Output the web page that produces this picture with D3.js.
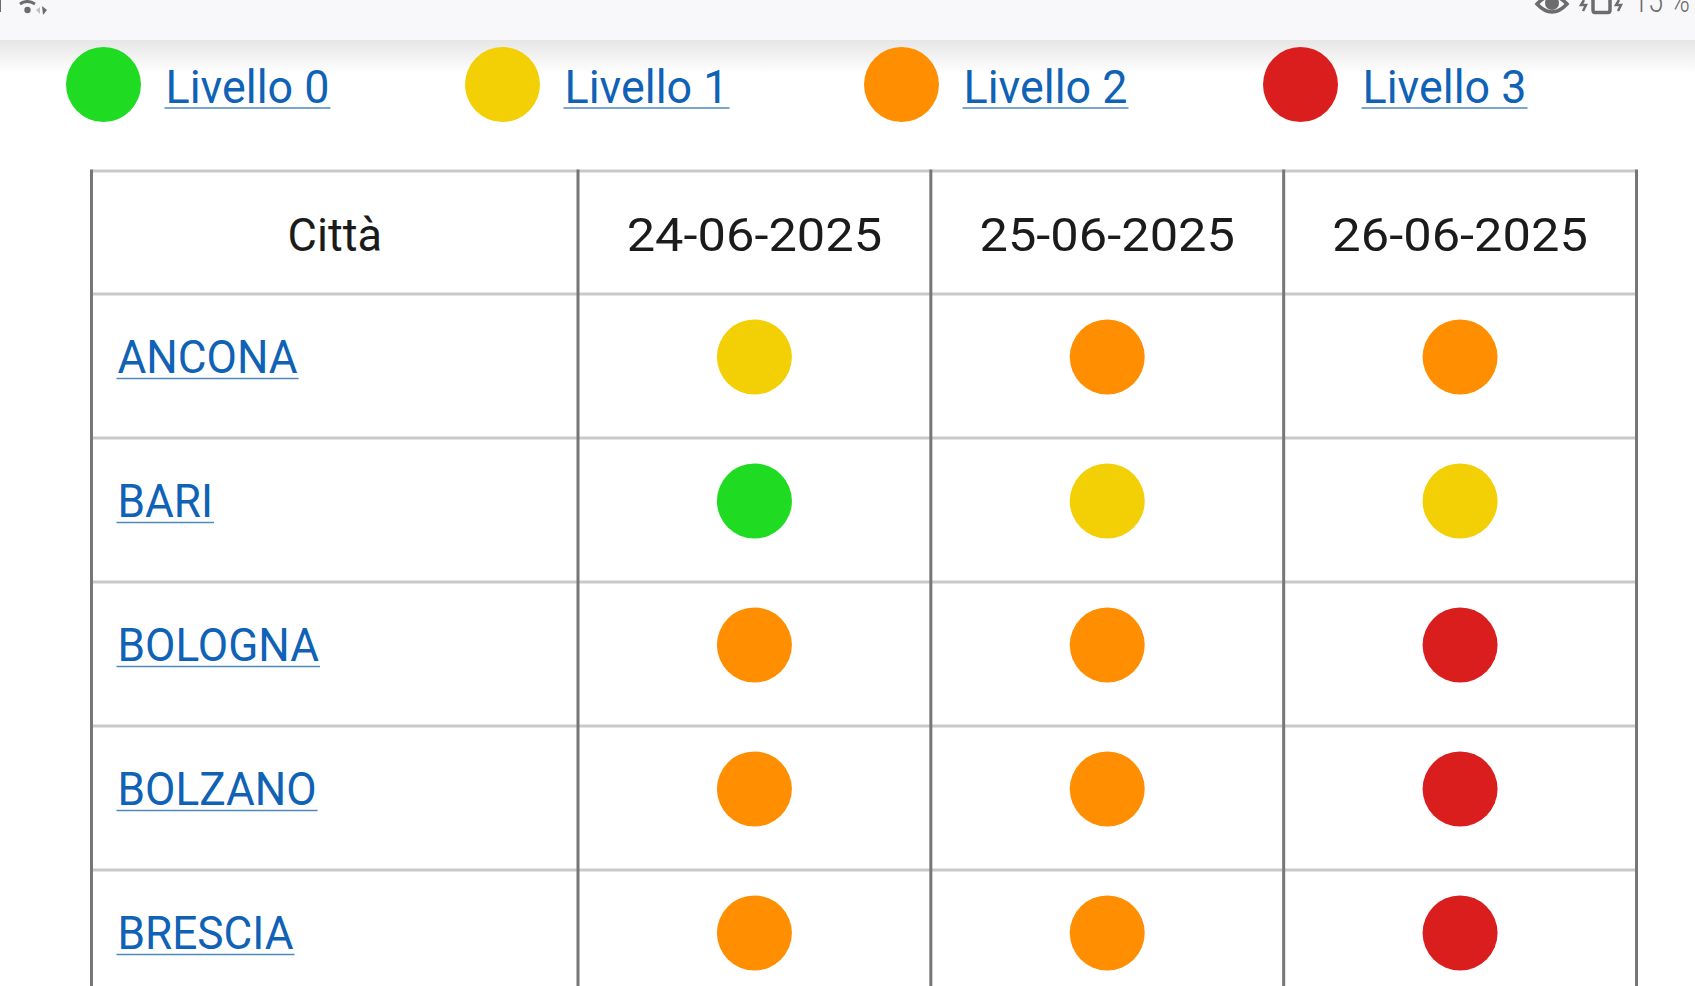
<!DOCTYPE html>
<html>
<head>
<meta charset="utf-8">
<script src="https://d3js.org/d3.v7.min.js"></script>
<style>
html, body { margin: 0; padding: 0; background: #fff; overflow: hidden; }
svg { display: block; }
text { font-family: Roboto, sans-serif; }
</style>
</head>
<body>
<svg id="chart" width="1695" height="986"></svg>
<script>
// Levels shown in the legend
const levels = ['Livello 0', 'Livello 1', 'Livello 2', 'Livello 3'];
const levelColors = ['#1fdb22', '#f3cf05', '#ff8e00', '#da1e1e'];

const cornerHeader = 'Città';
const dates = ['24-06-2025', '25-06-2025', '26-06-2025'];
const cities = ['ANCONA', 'BARI', 'BOLOGNA', 'BOLZANO', 'BRESCIA'];

// Level index for each city, one array per date
const day24 = [1, 0, 2, 2, 2];
const day25 = [2, 1, 2, 2, 2];
const day26 = [2, 1, 3, 3, 3];
const days = [day24, day25, day26];

const batteryLabel = '15 %';

const svg = d3.select('#chart');
const lineDark = '#767676';
const lineLight = '#c9c9c9';
const linkBlue = '#0f62b5';
const r = 37.5;
const fontSize = 46;

// Roboto has other widths than the original font, so stretch labels by a factor
function fit(factor) {
    return sel => sel.each(function () {
        this.setAttribute('lengthAdjust', 'spacingAndGlyphs');
        this.setAttribute('textLength', this.getComputedTextLength() * factor);
    });
}

// Scales
const legendX = d3.scaleBand().domain(levels).range([66, 1662]);
const colX = d3.scaleBand().domain(dates).range([578, 1636.5]);
const rowY = d3.scaleBand().domain(cities).range([294, 1014]);
const tableLeft = 91.5;
const tableTop = 171;
const tableRight = colX.range()[1];
const color = d3.scaleOrdinal().domain(d3.range(4)).range(levelColors);

// Status bar and its shadow
const defs = svg.append('defs');
const shadow = defs.append('linearGradient')
    .attr('id', 'shadow')
    .attr('x1', 0).attr('x2', 0).attr('y1', 0).attr('y2', 1);
shadow.append('stop').attr('offset', 0).attr('stop-color', '#e6e6e7');
shadow.append('stop').attr('offset', 1).attr('stop-color', '#ffffff');

svg.append('rect').attr('x', 0).attr('y', 40).attr('width', 1695).attr('height', 34)
    .attr('fill', 'url(#shadow)');
svg.append('rect').attr('x', 0).attr('y', 0).attr('width', 1695).attr('height', 40)
    .attr('fill', '#f8f8fa');

const icons = svg.append('g').attr('fill', '#6c6c6c').attr('stroke', '#6c6c6c');
// left: sliver at the edge, wifi remains
icons.append('rect').attr('x', 0).attr('y', 0).attr('width', 1).attr('height', 12).attr('stroke', 'none');
icons.append('path').attr('d', 'M20,4 Q27,-1 35,4').attr('fill', 'none').attr('stroke-width', 3);
icons.append('circle').attr('cx', 27.5).attr('cy', 10).attr('r', 3.2).attr('stroke', 'none');
icons.append('path').attr('d', 'M36,10 L40,7 V14 Z').attr('stroke', 'none').attr('opacity', 0.4);
icons.append('path').attr('d', 'M42,6 L47,10 L43,15 Z').attr('stroke', 'none');
// right: eye, vibration icon
icons.append('path').attr('d', 'M1537,4 Q1552,-12 1567,4 Q1552,20 1537,4 Z')
    .attr('fill', 'none').attr('stroke-width', 3.5);
icons.append('circle').attr('cx', 1552).attr('cy', 3).attr('r', 7).attr('stroke', 'none');
icons.append('path').attr('d', 'M1593,-2 V10 Q1593,12.5 1595,12.5 H1608 Q1610,12.5 1610,10 V-2')
    .attr('fill', 'none').attr('stroke-width', 3.5);
icons.append('path').attr('d', 'M1584,0 L1581,5 L1586,5 L1583,11').attr('fill', 'none').attr('stroke-width', 2.5);
icons.append('path').attr('d', 'M1619,0 L1616,5 L1621,5 L1618,11').attr('fill', 'none').attr('stroke-width', 2.5);
svg.append('text')
    .attr('x', 1633).attr('y', 12)
    .attr('font-size', 34)
    .attr('font-weight', 300)
    .attr('fill', '#6c6c6c')
    .text(batteryLabel)
    .call(fit(0.8));

// Underlined link label
function link(g, label, x, y, factor) {
    const t = g.append('text')
        .attr('x', x).attr('y', y)
        .attr('font-size', fontSize)
        .attr('fill', linkBlue)
        .text(label)
        .call(fit(factor));
    g.append('line')
        .attr('x1', x - 1).attr('x2', x + t.node().getComputedTextLength() + 1)
        .attr('y1', y + 5.5).attr('y2', y + 5.5)
        .attr('stroke', '#4f8abf')
        .attr('stroke-width', 1.4);
}

// Legend
const legend = svg.selectAll('g.legend')
    .data(levels)
    .enter().append('g')
    .attr('class', 'legend')
    .attr('transform', d => `translate(${legendX(d)},0)`);
legend.append('circle')
    .attr('cx', r).attr('cy', 84.5).attr('r', r)
    .attr('fill', (d, i) => color(i));
legend.each(function (d) {
    link(d3.select(this), d, 99.5, 102.5, 0.975);
});

// Table lines
const hLines = [tableTop, rowY.range()[0]].concat(cities.map(c => rowY(c) + rowY.bandwidth()));
svg.append('g').selectAll('line')
    .data(hLines)
    .enter().append('line')
    .attr('x1', tableLeft).attr('x2', tableRight)
    .attr('y1', d => d).attr('y2', d => d)
    .attr('stroke', lineLight)
    .attr('stroke-width', 3);
const vLines = [tableLeft].concat(dates.map(d => colX(d)), [tableRight]);
svg.append('g').selectAll('line')
    .data(vLines)
    .enter().append('line')
    .attr('x1', d => d).attr('x2', d => d)
    .attr('y1', tableTop - 1.5).attr('y2', 986)
    .attr('stroke', lineDark)
    .attr('stroke-width', 3);

// Header
svg.append('text')
    .attr('x', (tableLeft + colX.range()[0]) / 2).attr('y', 251)
    .attr('text-anchor', 'middle')
    .attr('font-size', fontSize)
    .attr('fill', '#1b1b1b')
    .text(cornerHeader)
    .call(fit(0.98));
svg.append('g').selectAll('text')
    .data(dates)
    .enter().append('text')
    .attr('x', d => colX(d) + colX.bandwidth() / 2).attr('y', 251)
    .attr('text-anchor', 'middle')
    .attr('font-size', fontSize)
    .attr('fill', '#1b1b1b')
    .text(d => d)
    .call(fit(1.1));

// City rows
const rows = svg.append('g');
cities.forEach((city, i) => {
    link(rows, city, 117.5, rowY(city) + 79, 0.96);
    days.forEach((values, j) => {
        rows.append('circle')
            .attr('cx', colX(dates[j]) + colX.bandwidth() / 2)
            .attr('cy', rowY(city) + rowY.bandwidth() / 2 - 9)
            .attr('r', r)
            .attr('fill', color(values[i]));
    });
});
</script>
</body>
</html>
